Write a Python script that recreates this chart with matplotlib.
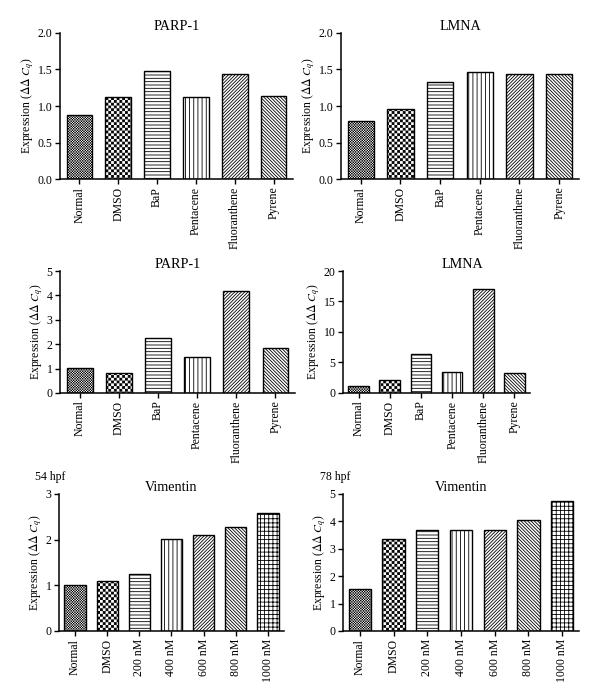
import numpy as np
import matplotlib
matplotlib.use('Agg')
import matplotlib.pyplot as plt
from matplotlib import hatch as mhatch
from matplotlib.path import Path
from matplotlib.ticker import FormatStrFormatter

plt.rcParams['font.family'] = ['Liberation Serif', 'DejaVu Serif']
plt.rcParams['mathtext.fontset'] = 'stix'
plt.rcParams['font.size'] = 8.5
plt.rcParams['hatch.linewidth'] = 0.6
plt.rcParams['hatch.color'] = 'black'

# data
pah = ['Normal', 'DMSO', 'BaP', 'Pentacene', 'Fluoranthene', 'Pyrene']
doses = ['Normal', 'DMSO', '200 nM', '400 nM', '600 nM', '800 nM', '1000 nM']

parp1_a = [0.88, 1.12, 1.48, 1.12, 1.44, 1.14]
lmna_a = [0.80, 0.96, 1.33, 1.47, 1.44, 1.44]
parp1_b = [1.02, 0.82, 2.25, 1.47, 4.20, 1.84]
lmna_b = [1.1, 2.15, 6.4, 3.4, 17.0, 3.25]
vim_54 = [1.01, 1.09, 1.24, 2.02, 2.11, 2.27, 2.58]
vim_78 = [1.52, 3.35, 3.67, 3.70, 3.68, 4.06, 4.74]

hatch_pah = ['*' * 13, '*' * 6, '-----', '||||', '/' * 10, '\\' * 10]
hatch_dose = hatch_pah + ['++++']


# checkerboard hatch, takes the place of the '*' (stars) pattern
class Checker(mhatch.HatchPatternBase):
    def __init__(self, hatch, density):
        self.n = hatch.count('*') * density
        self.num_vertices = (self.n * self.n // 2) * 5

    def set_vertices_and_codes(self, vertices, codes):
        step = 1.0 / self.n
        shrink = 0.6 / 72.0
        s = max(step - shrink, step * 0.3)
        i, j = np.meshgrid(np.arange(self.n), np.arange(self.n))
        keep = (i + j) % 2 == 0
        x0 = i[keep] * step + (step - s) / 2
        y0 = j[keep] * step + (step - s) / 2
        sq = np.array([[0, 0], [s, 0], [s, s], [0, s], [0, 0]])
        v = sq[None, :, :] + np.stack([x0, y0], axis=1)[:, None, :]
        vertices[:] = v.reshape(-1, 2)
        codes[:] = np.tile([Path.MOVETO, Path.LINETO, Path.LINETO,
                            Path.LINETO, Path.CLOSEPOLY], len(x0))


mhatch._hatch_types[mhatch._hatch_types.index(mhatch.Stars)] = Checker

fig = plt.figure(figsize=(6, 6.99), dpi=100)


def panel(rect, cats, vals, hatches, ymax, step, title, fmt, title_x=0.5):
    ax = fig.add_axes(rect)
    x = np.arange(len(cats))
    bars = ax.bar(x, vals, width=0.66, color='white', edgecolor='black',
                  linewidth=1.0)
    for b, h in zip(bars, hatches):
        b.set_hatch(h)
    ax.set_xlim(-0.5, len(cats) - 0.5)
    ax.set_ylim(0, ymax)
    ax.set_yticks(np.arange(0, ymax + step / 2, step))
    ax.yaxis.set_major_formatter(FormatStrFormatter(fmt))
    ax.set_xticks(x)
    ax.set_xticklabels(cats, rotation=90)
    for s in ['top', 'right']:
        ax.spines[s].set_visible(False)
    for s in ['left', 'bottom']:
        ax.spines[s].set_linewidth(1.1)
    ax.tick_params(direction='out', length=3.5, width=1.0, pad=2)
    ax.set_ylabel(r'Expression ($\Delta\Delta\ C_q$)', labelpad=1)
    ax.set_title(title, x=title_x, pad=1)
    return ax


panel([0.100, 0.7439, 0.3883, 0.2089], pah, parp1_a, hatch_pah, 2.0, 0.5, 'PARP-1', '%.1f')
panel([0.5683, 0.7439, 0.3967, 0.2089], pah, lmna_a, hatch_pah, 2.0, 0.5, 'LMNA', '%.1f')
panel([0.100, 0.4378, 0.3917, 0.1745], pah, parp1_b, hatch_pah, 5, 1, 'PARP-1', '%d')
panel([0.5717, 0.4378, 0.3117, 0.1745], pah, lmna_b, hatch_pah, 20, 5, 'LMNA', '%d', title_x=0.64)
panel([0.0983, 0.0973, 0.3750, 0.1960], doses, vim_54, hatch_dose, 3, 1, 'Vimentin', '%d')
panel([0.5717, 0.0973, 0.3933, 0.1960], doses, vim_78, hatch_dose, 5, 1, 'Vimentin', '%d')

fig.text(35 / 600, 1 - 477 / 699, '54 hpf', va='center', ha='left')
fig.text(320 / 600, 1 - 477 / 699, '78 hpf', va='center', ha='left')

fig.savefig('out.png', dpi=100)
